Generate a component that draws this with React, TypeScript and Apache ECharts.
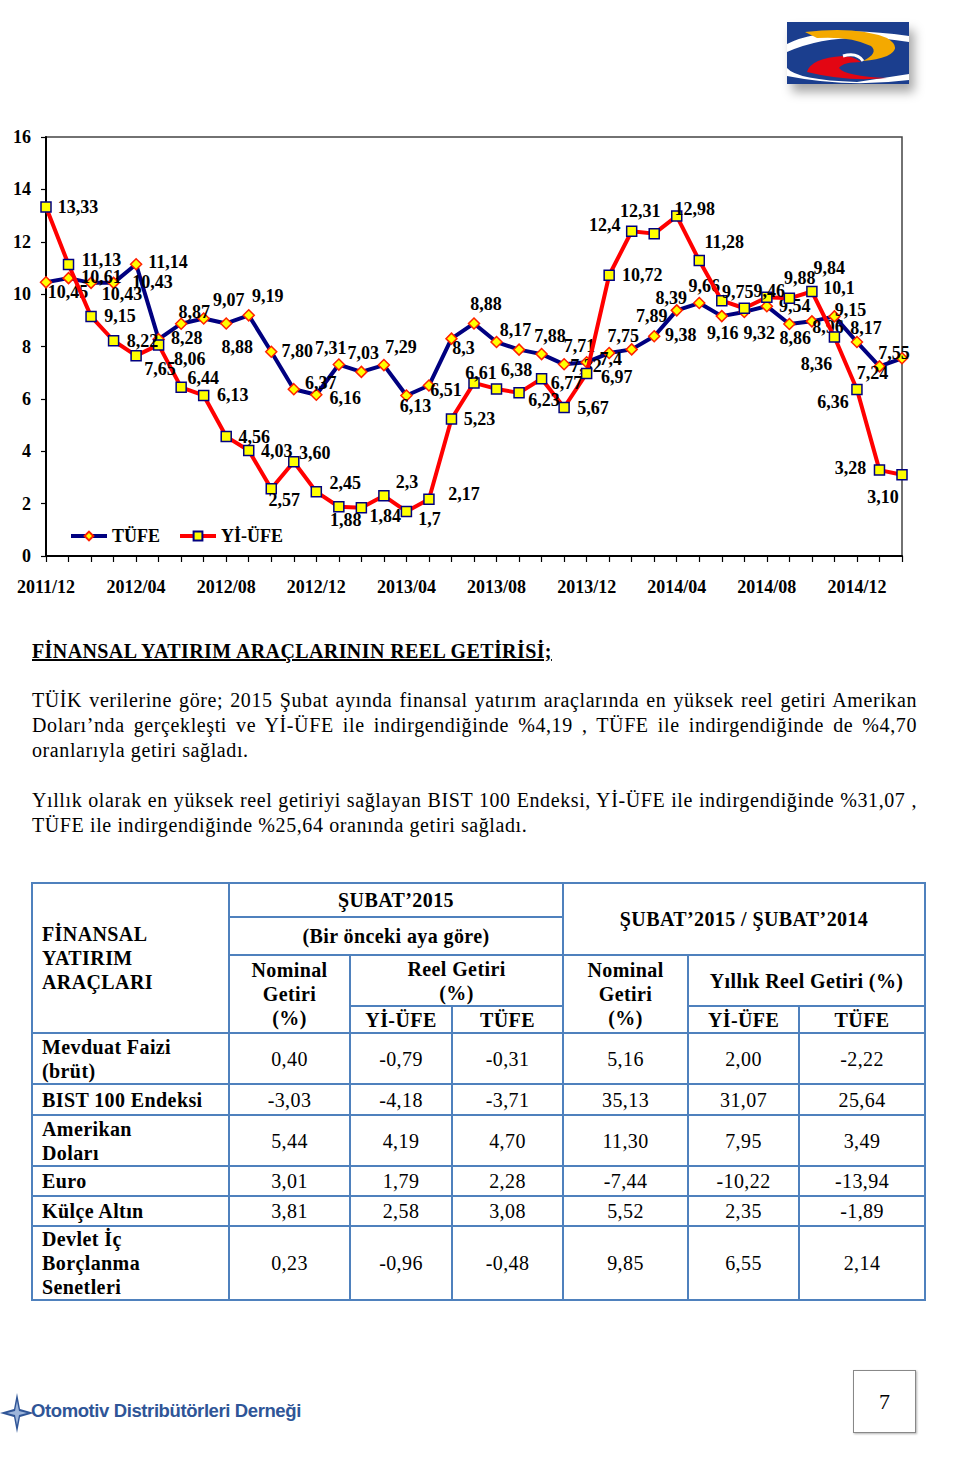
import React, { useEffect, useRef } from "react";
import * as echarts from "echarts";

// ---------- DATA ----------
const categories = [
  "2011/12",
  "2012/01", "2012/02", "2012/03", "2012/04", "2012/05", "2012/06", "2012/07", "2012/08", "2012/09", "2012/10", "2012/11", "2012/12",
  "2013/01", "2013/02", "2013/03", "2013/04", "2013/05", "2013/06", "2013/07", "2013/08", "2013/09", "2013/10", "2013/11", "2013/12",
  "2014/01", "2014/02", "2014/03", "2014/04", "2014/05", "2014/06", "2014/07", "2014/08", "2014/09", "2014/10", "2014/11", "2014/12",
  "2015/01", "2015/02",
];

// values as printed on the chart
const tufeText = [
  "10,45", "10,61", "10,43", "10,43", "11,14", "8,28", "8,87", "9,07", "8,88", "9,19", "7,80", "6,37", "6,16",
  "7,31", "7,03", "7,29", "6,13", "6,51", "8,3", "8,88", "8,17", "7,88", "7,71", "7,32", "7,4",
  "7,75", "7,89", "8,39", "9,38", "9,66", "9,16", "9,32", "9,54", "8,86", "8,96", "9,15", "8,17",
  "7,24", "7,55",
];
const yiufeText = [
  "13,33", "11,13", "9,15", "8,22", "7,65", "8,06", "6,44", "6,13", "4,56", "4,03", "2,57", "3,60", "2,45",
  "1,88", "1,84", "2,3", "1,7", "2,17", "5,23", "6,61", "6,38", "6,23", "6,77", "5,67", "6,97",
  "10,72", "12,4", "12,31", "12,98", "11,28", "9,75", "9,46", "9,88", "9,84", "10,1", "8,36", "6,36",
  "3,28", "3,10",
];
const toNum = (s: string) => parseFloat(s.replace(",", "."));
const tufe = tufeText.map(toNum);
const yiufe = yiufeText.map(toNum);

const yMin = 0;
const yMax = 16;
const yStep = 2;

// label placement (style config: offsets of label centre from point, px)
const tufeLabelOffsets: number[][] = [
  [22, 10], [33, -1], [31, 11], [39, -1], [32, -2], [28, -1], [13, -12], [25, -18], [11, 24], [19, -19],
  [26, -1], [27, -6], [29, 3], [-8, -17], [2, -19], [17, -18], [9, 11], [17, 4], [12, 9], [12, -19],
  [19, -12], [31, -14], [38, -8], [22, 2], [24, -3], [14, -17], [20, -33], [17, -38], [4, 25], [5, -17],
  [1, 17], [15, 21], [28, 0], [6, 14], [16, 6], [16, -6], [9, -14], [-7, 7], [-8, -5],
];
const yiufeLabelOffsets: number[][] = [
  [32, 0], [33, -5], [29, 0], [29, 0], [24, 13], [31, 14], [22, -9], [29, 0], [28, 0], [28, 1],
  [13, 11], [21, -9], [29, -9], [7, 13], [24, 8], [23, -14], [23, 8], [35, -5], [28, 0], [7, -10],
  [20, -19], [25, 7], [25, 4], [29, 0], [30, 4], [33, 0], [-27, -6], [-14, -23], [18, -7], [25, -19],
  [16, -9], [25, -17], [33, -19], [40, -30], [27, -4], [-18, 27], [-24, 13], [-29, -2], [-19, 22],
];

// table data
const tableRows = [
  { name: ["Mevduat Faizi", "(brüt)"], values: ["0,40", "-0,79", "-0,31", "5,16", "2,00", "-2,22"] },
  { name: ["BIST 100 Endeksi"], values: ["-3,03", "-4,18", "-3,71", "35,13", "31,07", "25,64"] },
  { name: ["Amerikan", "Doları"], values: ["5,44", "4,19", "4,70", "11,30", "7,95", "3,49"] },
  { name: ["Euro"], values: ["3,01", "1,79", "2,28", "-7,44", "-10,22", "-13,94"] },
  { name: ["Külçe Altın"], values: ["3,81", "2,58", "3,08", "5,52", "2,35", "-1,89"] },
  { name: ["Devlet İç", "Borçlanma", "Senetleri"], values: ["0,23", "-0,96", "-0,48", "9,85", "6,55", "2,14"] },
];
const rowHeights = [51, 31, 51, 30, 30, 73];

const SERIF = "'Liberation Serif', 'DejaVu Serif', serif";
const BORDER = "2px solid #4F81BD";

function Chart() {
  const ref = useRef<HTMLDivElement>(null);
  useEffect(() => {
    if (!ref.current) return;
    const chart = echarts.init(ref.current, undefined, { renderer: "svg" });
    const labelBase = {
      show: true,
      position: "inside",
      color: "#000",
      fontFamily: SERIF,
      fontWeight: "bold",
      fontSize: 18,
      textBorderWidth: 0,
    };
    chart.setOption({
      animation: false,
      grid: {
        left: 46,
        right: 58,
        top: 17,
        bottom: 64,
        show: true,
        borderColor: "#444",
        borderWidth: 1.5,
      },
      legend: {
        left: 64,
        top: 402,
        itemWidth: 36,
        itemHeight: 11,
        itemGap: 18,
        lineStyle: { width: 4 },
        textStyle: { fontFamily: SERIF, fontWeight: "bold", fontSize: 18, color: "#000" },
        data: ["TÜFE", "Yİ-ÜFE"],
      },
      xAxis: {
        type: "category",
        data: categories,
        boundaryGap: false,
        axisLine: { lineStyle: { color: "#000", width: 2 } },
        axisTick: { show: true, interval: 0, length: 6, lineStyle: { color: "#000", width: 1.2 } },
        axisLabel: {
          interval: 3,
          margin: 22,
          fontFamily: SERIF,
          fontWeight: "bold",
          fontSize: 18,
          color: "#000",
        },
      },
      yAxis: {
        type: "value",
        min: yMin,
        max: yMax,
        interval: yStep,
        splitLine: { show: false },
        axisLine: { show: true, lineStyle: { color: "#000", width: 2 } },
        axisTick: { show: true, length: 5, lineStyle: { color: "#000", width: 1.2 } },
        axisLabel: {
          margin: 15,
          fontFamily: SERIF,
          fontWeight: "bold",
          fontSize: 18,
          color: "#000",
        },
      },
      series: [
        {
          name: "TÜFE",
          type: "line",
          symbol: "diamond",
          symbolSize: 11,
          lineStyle: { color: "#000080", width: 4 },
          itemStyle: { color: "#FFFF00", borderColor: "#FF2000", borderWidth: 1.5 },
          label: { ...labelBase, formatter: (p: any) => tufeText[p.dataIndex] },
          data: tufe.map((v, i) => ({ value: v, label: { offset: tufeLabelOffsets[i] } })),
          z: 2,
        },
        {
          name: "Yİ-ÜFE",
          type: "line",
          symbol: "rect",
          symbolSize: 10,
          lineStyle: { color: "#FF0000", width: 4 },
          itemStyle: { color: "#FFFF00", borderColor: "#000080", borderWidth: 1.5 },
          label: { ...labelBase, formatter: (p: any) => yiufeText[p.dataIndex] },
          data: yiufe.map((v, i) => ({ value: v, label: { offset: yiufeLabelOffsets[i] } })),
          z: 3,
        },
      ],
    });
    return () => chart.dispose();
  }, []);
  return <div ref={ref} style={{ position: "absolute", left: 0, top: 120, width: 960, height: 500 }} />;
}

function TopLogo() {
  return (
    <div
      style={{
        position: "absolute",
        left: 787,
        top: 22,
        width: 122,
        height: 62,
        boxShadow: "5px 8px 10px rgba(0,0,0,0.35)",
      }}
    >
      <svg width={122} height={62} viewBox="0 0 122 62">
        <rect x={0} y={0} width={122} height={62} fill="#1B3E8E" />
        <path d="M0 22 Q40 2 122 14 L122 20 Q50 8 0 30 Z" fill="#fff" />
        <path d="M0 46 Q10 58 70 60 L122 52 L122 58 Q60 66 0 54 Z" fill="#fff" />
        <path d="M18 10 Q70 4 100 16 Q116 26 100 34 Q90 38 76 39 Q92 31 84 24 Q64 14 30 16 Z" fill="#F4A900" />
        <path d="M20 50 Q24 36 56 34 Q66 34 74 40 Q56 40 52 46 Q58 54 100 56 Q60 60 20 50 Z" fill="#E30613" />
        <path d="M56 34 Q70 30 76 39" stroke="#fff" strokeWidth={3} fill="none" />
      </svg>
    </div>
  );
}

function FooterLogo() {
  return (
    <div style={{ position: "absolute", left: 0, top: 1393, width: 320, height: 40 }}>
      <svg width={34} height={40} viewBox="0 0 34 40" style={{ position: "absolute", left: 0, top: 0 }}>
        <polygon points="17,0 20,16 34,20 20,24 17,40 14,24 0,20 14,16" fill="#2F5597" />
        <polygon points="17,8 19,18 27,20 19,22 17,32 15,22 7,20 15,18" fill="#9DB5DA" />
      </svg>
      <div
        style={{
          position: "absolute",
          left: 31,
          top: 7,
          fontFamily: "'Liberation Sans', Arial, sans-serif",
          fontWeight: "bold",
          fontSize: 18.5,
          color: "#2F5597",
          whiteSpace: "nowrap",
          letterSpacing: -0.4,
        }}
      >
        Otomotiv Distribütörleri Derneği
      </div>
    </div>
  );
}

const lineStyle = (justify: boolean): React.CSSProperties => ({
  whiteSpace: "nowrap",
  height: 25,
  lineHeight: "25px",
  textAlign: justify ? "justify" : "left",
  textAlignLast: justify ? "justify" : "left",
});

function TextBlock() {
  return (
    <>
      <div
        style={{
          position: "absolute",
          left: 32,
          top: 639,
          fontFamily: SERIF,
          fontWeight: "bold",
          fontSize: 20,
          letterSpacing: 0.4,
          lineHeight: "24px",
          textDecoration: "underline",
          whiteSpace: "nowrap",
        }}
      >
        FİNANSAL YATIRIM ARAÇLARININ REEL GETİRİSİ;
      </div>
      <div
        style={{
          position: "absolute",
          left: 32,
          top: 688,
          width: 885,
          fontFamily: SERIF,
          fontSize: 20,
          letterSpacing: 0.6,
          color: "#000",
        }}
      >
        <div style={lineStyle(true)}>
          TÜİK verilerine göre; 2015 Şubat ayında finansal yatırım araçlarında en yüksek reel getiri Amerikan
        </div>
        <div style={lineStyle(true)}>
          Doları’nda gerçekleşti ve Yİ-ÜFE ile indirgendiğinde %4,19 , TÜFE ile indirgendiğinde de %4,70
        </div>
        <div style={lineStyle(false)}>oranlarıyla getiri sağladı.</div>
        <div style={{ height: 25 }} />
        <div style={lineStyle(true)}>
          Yıllık olarak en yüksek reel getiriyi sağlayan BIST 100 Endeksi, Yİ-ÜFE ile indirgendiğinde %31,07 ,
        </div>
        <div style={lineStyle(false)}>TÜFE ile indirgendiğinde %25,64 oranında getiri sağladı.</div>
      </div>
    </>
  );
}

function DataTable() {
  const cell: React.CSSProperties = {
    border: BORDER,
    padding: 0,
    textAlign: "center",
    verticalAlign: "middle",
    lineHeight: "24px",
  };
  const head: React.CSSProperties = { ...cell, fontWeight: "bold" };
  const nameCell: React.CSSProperties = {
    ...cell,
    fontWeight: "bold",
    textAlign: "left",
    paddingLeft: 9,
  };
  return (
    <table
      style={{
        position: "absolute",
        left: 31,
        top: 882,
        width: 893,
        borderCollapse: "collapse",
        tableLayout: "fixed",
        fontFamily: SERIF,
        fontSize: 20,
        letterSpacing: 0.4,
        color: "#000",
      }}
    >
      <colgroup>
        <col style={{ width: 197 }} />
        <col style={{ width: 121 }} />
        <col style={{ width: 102 }} />
        <col style={{ width: 111 }} />
        <col style={{ width: 125 }} />
        <col style={{ width: 111 }} />
        <col style={{ width: 126 }} />
      </colgroup>
      <tbody>
        <tr style={{ height: 34 }}>
          <td rowSpan={4} style={nameCell}>
            FİNANSAL
            <br />
            YATIRIM
            <br />
            ARAÇLARI
          </td>
          <td colSpan={3} style={head}>
            ŞUBAT’2015
          </td>
          <td colSpan={3} rowSpan={2} style={head}>
            ŞUBAT’2015 / ŞUBAT’2014
          </td>
        </tr>
        <tr style={{ height: 38 }}>
          <td colSpan={3} style={head}>
            (Bir önceki aya göre)
          </td>
        </tr>
        <tr style={{ height: 51 }}>
          <td rowSpan={2} style={head}>
            Nominal
            <br />
            Getiri
            <br />
            (%)
          </td>
          <td colSpan={2} style={head}>
            Reel Getiri
            <br />
            (%)
          </td>
          <td rowSpan={2} style={head}>
            Nominal
            <br />
            Getiri
            <br />
            (%)
          </td>
          <td colSpan={2} style={head}>
            Yıllık Reel Getiri (%)
          </td>
        </tr>
        <tr style={{ height: 27 }}>
          <td style={head}>Yİ-ÜFE</td>
          <td style={head}>TÜFE</td>
          <td style={head}>Yİ-ÜFE</td>
          <td style={head}>TÜFE</td>
        </tr>
        {tableRows.map((r, i) => (
          <tr key={i} style={{ height: rowHeights[i] }}>
            <td style={nameCell}>
              {r.name.map((n, j) => (
                <React.Fragment key={j}>
                  {j > 0 && <br />}
                  {n}
                </React.Fragment>
              ))}
            </td>
            {r.values.map((v, j) => (
              <td key={j} style={cell}>
                {v}
              </td>
            ))}
          </tr>
        ))}
      </tbody>
    </table>
  );
}

export default function App() {
  return (
    <div
      style={{
        position: "absolute",
        left: 0,
        top: 0,
        width: 960,
        height: 1474,
        background: "#fff",
        overflow: "hidden",
        fontFamily: SERIF,
      }}
    >
      <TopLogo />
      <Chart />
      <TextBlock />
      <DataTable />
      <FooterLogo />
      <div
        style={{
          position: "absolute",
          left: 853,
          top: 1370,
          width: 61,
          height: 61,
          border: "1px solid #888",
          boxShadow: "1px 1px 2px rgba(0,0,0,0.3)",
          fontFamily: SERIF,
          fontSize: 22,
          lineHeight: "61px",
          textAlign: "center",
        }}
      >
        7
      </div>
    </div>
  );
}
